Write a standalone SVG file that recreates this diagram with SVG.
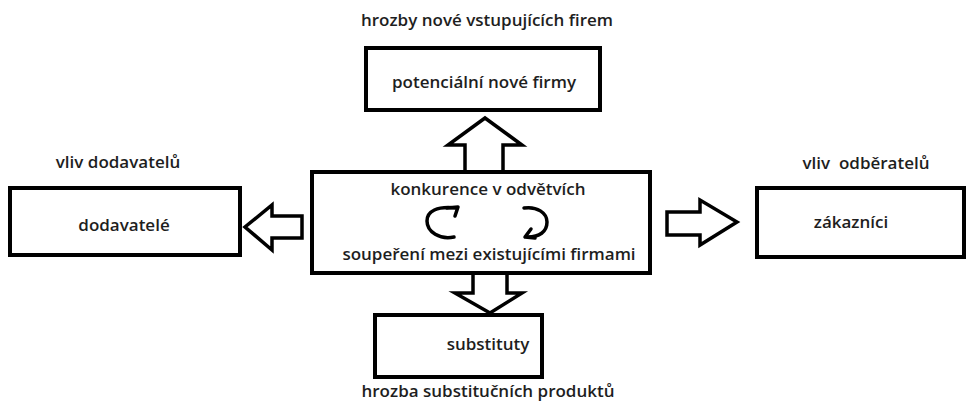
<svg xmlns="http://www.w3.org/2000/svg" width="968" height="414" viewBox="0 0 968 414">
<style>
.box{fill:#fff;stroke:#000;stroke-width:4}
.arr{fill:#fff;stroke:#000;stroke-width:3.5;stroke-linejoin:miter}
.t{font-family:"Open Sans","Liberation Sans",sans-serif;font-weight:600;font-size:17px;fill:#1e1e1e;text-anchor:middle}
.c{fill:none;stroke:#000;stroke-width:3.5;stroke-linecap:round;stroke-linejoin:round}
</style>
<rect width="968" height="414" fill="#fff"/>
<g id="connectors">
<polygon class="arr" points="465,172 465,145 448,145 485,118 522,145 503,145 503,172"/>
<polygon class="arr" points="473,273 473,293 455,293 490,313 522,293 507,293 507,273"/>
<polygon class="arr" points="302,216 272,216 272,205 245,227 272,250 272,238 302,238"/>
<polygon class="arr" points="667,212 700,212 700,200 737,222 700,245 700,235 667,235"/>
</g>
<g id="center">
<rect class="box" x="312" y="172" width="338" height="101"/>
<text class="t" x="488" y="195">konkurence v odvětvích</text>
<path class="c" d="M454,237 C440,240 427,232 427,221 C427,211 437,206 456,208"/>
<path class="c" d="M447,208 L458,207 L455,216"/>
<path class="c" d="M524,208 C537,206 547,213 547,222 C547,232 539,237 528,237"/>
<path class="c" d="M531,229 L525,237 L535,238"/>
<text class="t" x="489" y="260">soupeření mezi existujícími firmami</text>
</g>
<g id="top">
<text class="t" x="487" y="26">hrozby nové vstupujících firem</text>
<rect class="box" x="366" y="48" width="234" height="62"/>
<text class="t" x="484" y="88">potenciální nové firmy</text>
</g>
<g id="left">
<text class="t" x="118" y="168">vliv dodavatelů</text>
<rect class="box" x="10" y="188" width="230" height="67"/>
<text class="t" x="124" y="231">dodavatelé</text>
</g>
<g id="right">
<text class="t" x="866" y="169" xml:space="preserve">vliv  odběratelů</text>
<rect class="box" x="757" y="188" width="207" height="69"/>
<text class="t" x="851" y="228">zákazníci</text>
</g>
<g id="bottom">
<rect class="box" x="375" y="315" width="167" height="62"/>
<text class="t" x="488" y="350">substituty</text>
<text class="t" x="488" y="397">hrozba substitučních produktů</text>
</g>
</svg>
